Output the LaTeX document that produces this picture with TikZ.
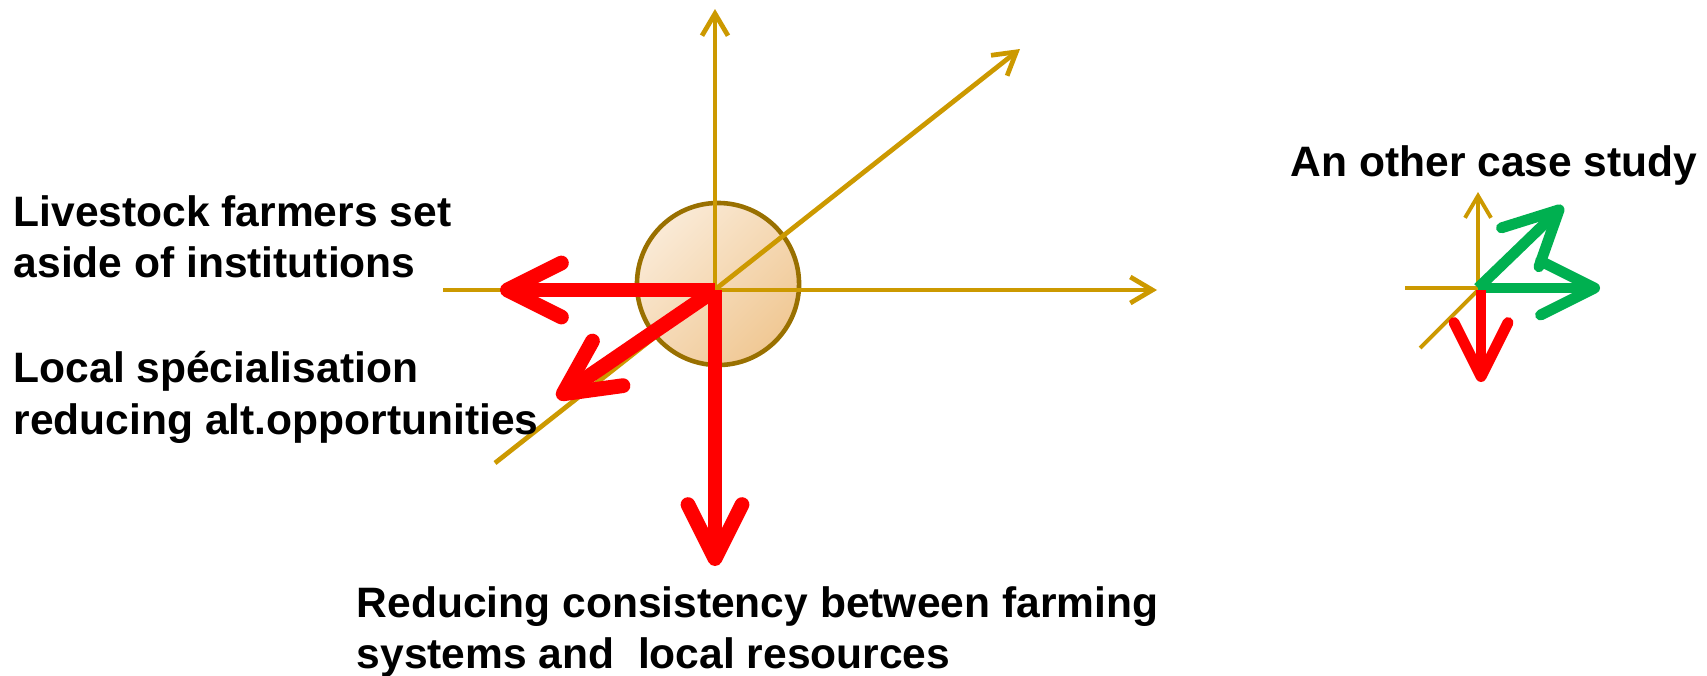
\documentclass[tikz,border=0pt]{standalone}
\usepackage{fontspec}
\setmainfont{Liberation Sans}
\usepackage{xcolor}
\usetikzlibrary{arrows.meta}

\definecolor{axisgold}{RGB}{204,153,0}
\definecolor{hubline}{RGB}{153,112,0}
\definecolor{hublight}{RGB}{250,234,214}
\definecolor{hubdark}{RGB}{240,200,148}
\definecolor{lossred}{RGB}{255,0,0}
\definecolor{gaingreen}{RGB}{0,176,80}

\tikzset{
  axis/.style={draw=axisgold,line width=1.35pt,
               -{Straight Barb[length=2.2mm,width=2.6mm]}},
  drift/.style={line width=4.2pt,
                -{Straight Barb[round,length=5.4mm,width=5.4mm]}},
  lbl/.style={anchor=north west,inner sep=0pt,align=left}
}

\begin{document}
\begin{tikzpicture}[x=0.01cm,y=-0.01cm,
  font=\bfseries\fontsize{12.1}{14.6}\selectfont]
  \useasboundingbox (0,0) rectangle (1707,675);

  % main case: hub and axes
  \coordinate (o) at (715,290);
  \node[circle,draw=hubline,line width=1.3pt,minimum size=1.62cm,inner sep=0pt,
        top color=hublight,bottom color=hubdark,shading angle=45] (hub) at (718,284) {};
  \coordinate (up)  at (715,9);
  \coordinate (w)   at (443,290);
  \coordinate (e)   at (1157,290);
  \coordinate (sw)  at (495,463);
  \coordinate (ne)  at (1020,49);
  \draw[axis] (o) -- (up);
  \draw[axis] (w) -- (e);
  \draw[axis] (sw) -- (ne);

  % red drifts
  \coordinate (r1) at (500,290);
  \coordinate (r2) at (557,398);
  \coordinate (r3) at (715,566);
  \foreach \t in {r1,r2,r3} {
    \draw[drift,draw=lossred] (o) -- (\t);
  }

  % labels
  \node[lbl] (setaside) at (13,195) {Livestock farmers set\\aside of institutions};
  \node[lbl] (special)  at (13,351) {Local spécialisation\\reducing alt.opportunities};
  \node[lbl] (consist)  at (356,586) {Reducing consistency between farming\\systems and\ \ local resources};

  % other case study
  \node[lbl] (other) at (1290,145) {An other case study};
  \coordinate (so)  at (1478,288);
  \coordinate (sup) at (1478,192);
  \coordinate (sw2) at (1405,288);
  \coordinate (se2) at (1600,288);
  \coordinate (sd1) at (1420,348);
  \coordinate (sd2) at (1556,212);
  \draw[axis,line width=1.1pt] (so) -- (sup);
  \draw[axis,line width=1.1pt] (sw2) -- (se2);
  \draw[axis,line width=1.1pt] (sd1) -- (sd2);
  \coordinate (g1) at (1600,288);
  \coordinate (g2) at (1563,206);
  \draw[drift,draw=gaingreen,line width=3.1pt] (so) -- (g1);
  \draw[drift,draw=gaingreen,line width=3.1pt] (so) -- (g2);
  \coordinate (rs) at (1481,290);
  \coordinate (rd) at (1481,382);
  \draw[drift,draw=lossred,line width=3.1pt] (rs) -- (rd);

\end{tikzpicture}
\end{document}
